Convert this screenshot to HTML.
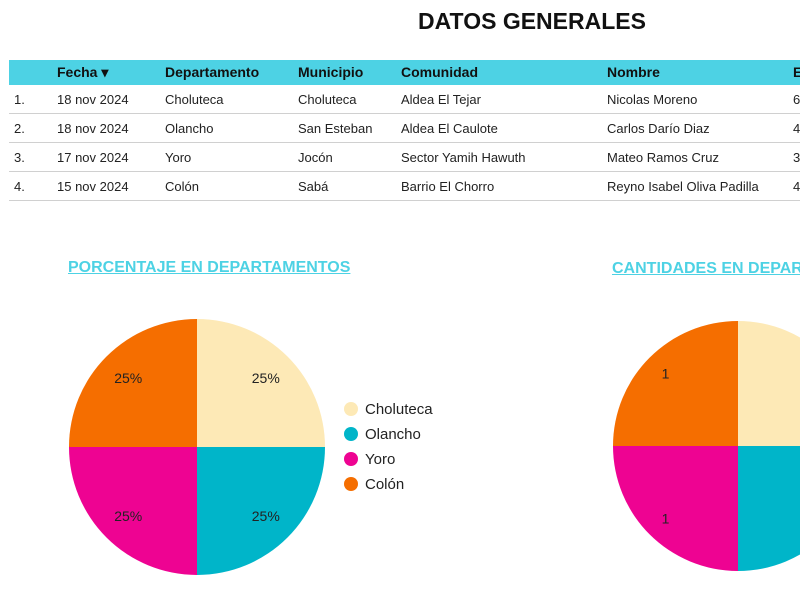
<!DOCTYPE html>
<html><head><meta charset="utf-8"><style>
body{margin:0;width:800px;height:600px;overflow:hidden;background:#fff;font-family:"Liberation Sans",sans-serif;position:relative}
#wrap{position:absolute;left:0;top:0;width:800px;height:600px;overflow:hidden}
h1{position:absolute;left:0;width:1064px;text-align:center;top:8px;margin:0;font-size:23px;font-weight:bold;color:#111}
.hdr{position:absolute;left:9px;top:60px;width:791px;height:25px;background:#4dd2e4}
.row{position:absolute;left:9px;width:791px;border-bottom:1px solid #d0d0d0}
.c{position:absolute;font-size:13px;color:#222;white-space:nowrap}
.hc{font-weight:bold;font-size:14px;color:#111}
.title{position:absolute;font-size:16px;font-weight:bold;color:#4dd2e4;text-decoration:underline;white-space:nowrap}
</style></head><body>
<div id="wrap">
<h1>DATOS GENERALES</h1>
<div class="hdr"></div>
<div id="tbl"></div>
<div class="title" style="left:68px;top:259px">PORCENTAJE EN DEPARTAMENTOS</div>
<div class="title" style="left:612px;top:260px">CANTIDADES EN DEPARTAMENTOS</div>
<svg id="chart" width="800" height="600" style="position:absolute;left:0;top:0"></svg>
</div>
<script>
const headers=["","Fecha ▾","Departamento","Municipio","Comunidad","Nombre","Edad"];
const colX=[14,57,165,298,401,607,793];
const rows=[["1.","18 nov 2024","Choluteca","Choluteca","Aldea El Tejar","Nicolas Moreno","6"],
["2.","18 nov 2024","Olancho","San Esteban","Aldea El Caulote","Carlos Darío Diaz","4"],
["3.","17 nov 2024","Yoro","Jocón","Sector Yamih Hawuth","Mateo Ramos Cruz","3"],
["4.","15 nov 2024","Colón","Sabá","Barrio El Chorro","Reyno Isabel Oliva Padilla","4"]];
const categories=["Choluteca","Olancho","Yoro","Colón"];
const values=[1,1,1,1];
const colors=["#fde9b6","#00b5c9","#ee0392","#f56e00"];
const tbl=document.getElementById('tbl');
headers.forEach((h,i)=>{const d=document.createElement('div');d.className='c hc';d.style.left=colX[i]+'px';d.style.top='64px';d.textContent=h;


tbl.appendChild(d);});
rows.forEach((r,ri)=>{const top=85+ri*29;const rw=document.createElement('div');rw.className='row';rw.style.top=top+'px';rw.style.height='28px';


tbl.appendChild(rw);
r.forEach((v,i)=>{const d=document.createElement('div');d.className='c';d.style.left=colX[i]+'px';d.style.top=(top+7)+'px';d.textContent=v;


tbl.appendChild(d);});});
const svg=document.getElementById('chart');const NS='http://www.w3.org/2000/svg';
function pie(cx,cy,r,lr,labelFn,name){const tot=values.reduce((a,b)=>a+b,0);let a0=0;
values.forEach((v,i)=>{const a1=a0+v/tot*2*Math.PI;
const p=(a)=>[cx+r*Math.sin(a),cy-r*Math.cos(a)];const [x0,y0]=p(a0),[x1,y1]=p(a1);
const path=document.createElementNS(NS,'path');
path.setAttribute('d',`M${cx},${cy}L${x0},${y0}A${r},${r} 0 ${a1-a0>Math.PI?1:0} 1 ${x1},${y1}Z`);
path.setAttribute('fill',colors[i]);


svg.appendChild(path);
const am=(a0+a1)/2;const t=document.createElementNS(NS,'text');
t.setAttribute('x',cx+r*lr*Math.sin(am));t.setAttribute('y',cy-r*lr*Math.cos(am)+5);
t.setAttribute('text-anchor','middle');t.setAttribute('font-size','14');t.setAttribute('font-family','Liberation Sans, sans-serif');t.setAttribute('fill','#222');
t.textContent=labelFn(v,tot);


svg.appendChild(t);a0=a1;});}
pie(197,447,128,0.76,(v,t)=>Math.round(v/t*100)+'%','pie1');
pie(738,446,125,0.82,(v)=>String(v),'pie2');
categories.forEach((c,i)=>{const y=409+i*25;
const ci=document.createElementNS(NS,'circle');ci.setAttribute('cx',351);ci.setAttribute('cy',y);ci.setAttribute('r',7);ci.setAttribute('fill',colors[i]);


svg.appendChild(ci);
const t=document.createElementNS(NS,'text');t.setAttribute('x',365);t.setAttribute('y',y+5);t.setAttribute('font-size','15');t.setAttribute('font-family','Liberation Sans, sans-serif');t.setAttribute('fill','#222');t.textContent=c;


svg.appendChild(t);});
</script>
</body></html>
